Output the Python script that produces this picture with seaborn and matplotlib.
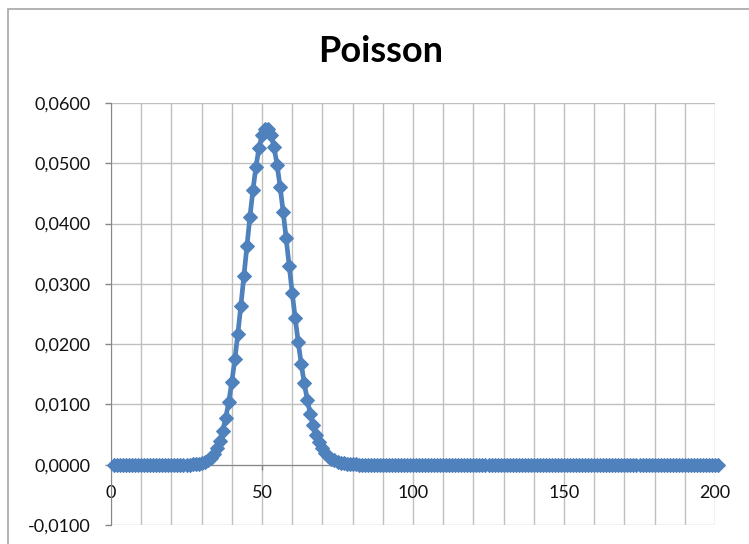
"""
plot.py
Poisson probability curve, Excel-style line chart with diamond markers.
"""

import matplotlib
matplotlib.use("Agg")
import matplotlib.pyplot as plt
import matplotlib.patches as mpatches
from matplotlib.ticker import MultipleLocator, FuncFormatter
import pandas as pd
import seaborn as sns

# ── Data ─────────────────────────────────────────────────────────────────────
TITLE = "Poisson"

# x positions of the points (1 .. 201)
x_vals = list(range(1, 202))

# probability at each point
prob = [
    0.0, 0.0, 0.0, 0.0, 0.0, 0.0, 0.0, 0.0, 0.0, 0.0,
    0.0, 0.0, 0.0, 0.0, 0.0, 0.0, 0.0, 0.0, 0.0, 0.0,
    0.0, 0.0, 0.0, 0.0, 0.00001, 0.00002, 0.00004, 0.00008, 0.00015, 0.00027,
    0.00045, 0.00074, 0.00118, 0.00183, 0.00274, 0.00400, 0.00566, 0.00781, 0.01048, 0.01370,
    0.01747, 0.02173, 0.02638, 0.03129, 0.03626, 0.04110, 0.04556, 0.04944, 0.05253, 0.05468,
    0.05577, 0.05577, 0.05470, 0.05264, 0.04971, 0.04610, 0.04198, 0.03756, 0.03303, 0.02855,
    0.02427, 0.02029, 0.01669, 0.01351, 0.01077, 0.00845, 0.00653, 0.00497, 0.00373, 0.00275,
    0.00201, 0.00144, 0.00102, 0.00071, 0.00049, 0.00033, 0.00022, 0.00015, 0.00010, 0.00006,
    0.00004, 0.00003, 0.00002, 0.00001, 0.0, 0.0, 0.0, 0.0, 0.0, 0.0,
    0.0, 0.0, 0.0, 0.0, 0.0, 0.0, 0.0, 0.0, 0.0, 0.0,
    0.0, 0.0, 0.0, 0.0, 0.0, 0.0, 0.0, 0.0, 0.0, 0.0,
    0.0, 0.0, 0.0, 0.0, 0.0, 0.0, 0.0, 0.0, 0.0, 0.0,
    0.0, 0.0, 0.0, 0.0, 0.0, 0.0, 0.0, 0.0, 0.0, 0.0,
    0.0, 0.0, 0.0, 0.0, 0.0, 0.0, 0.0, 0.0, 0.0, 0.0,
    0.0, 0.0, 0.0, 0.0, 0.0, 0.0, 0.0, 0.0, 0.0, 0.0,
    0.0, 0.0, 0.0, 0.0, 0.0, 0.0, 0.0, 0.0, 0.0, 0.0,
    0.0, 0.0, 0.0, 0.0, 0.0, 0.0, 0.0, 0.0, 0.0, 0.0,
    0.0, 0.0, 0.0, 0.0, 0.0, 0.0, 0.0, 0.0, 0.0, 0.0,
    0.0, 0.0, 0.0, 0.0, 0.0, 0.0, 0.0, 0.0, 0.0, 0.0,
    0.0, 0.0, 0.0, 0.0, 0.0, 0.0, 0.0, 0.0, 0.0, 0.0,
    0.0,
]

# ── Style ─────────────────────────────────────────────────────────────────────
sns.set_style("white")
plt.rcParams["font.family"] = ["Lato", "DejaVu Sans"]

LINE_COLOR = "#4F81BD"
GRID_COLOR = "#BFBFBF"
AXIS_COLOR = "#868686"
TEXT_COLOR = "#111111"


def comma_fmt(v, _pos):
    return f"{v:.4f}".replace(".", ",")


# ── Plot ──────────────────────────────────────────────────────────────────────
fig = plt.figure(figsize=(7.49, 5.44), dpi=100)
ax = fig.add_axes([111 / 749, 19 / 544, 604 / 749, 422 / 544])

# outer chart-area border (cut off at right and bottom like the original)
fig.patches.append(mpatches.Rectangle(
    (8 / 749, -0.2), 1.2, 1.2 - 9 / 544,
    transform=fig.transFigure, fill=False,
    edgecolor="#A6A6A6", linewidth=1.2))

df = pd.DataFrame({"x": x_vals, "p": prob})
sns.lineplot(data=df, x="x", y="p", ax=ax, color=LINE_COLOR,
             linewidth=3.4, marker="D", markersize=7.5,
             markeredgecolor=LINE_COLOR, zorder=3)
for line in ax.lines:
    line.set_clip_on(False)

ax.set_xlim(0, 200)
ax.set_ylim(-0.01, 0.06)
ax.xaxis.set_major_locator(MultipleLocator(50))
ax.xaxis.set_minor_locator(MultipleLocator(10))
ax.yaxis.set_major_locator(MultipleLocator(0.01))
ax.yaxis.set_major_formatter(FuncFormatter(comma_fmt))

ax.grid(True, which="major", color=GRID_COLOR, linewidth=1.0, zorder=0)
ax.grid(True, which="minor", axis="x", color=GRID_COLOR, linewidth=1.0, zorder=0)
ax.set_axisbelow(True)

for side in ["top", "right"]:
    ax.spines[side].set_visible(False)
ax.spines["left"].set_color(AXIS_COLOR)
ax.spines["bottom"].set_color(AXIS_COLOR)
ax.spines["bottom"].set_position(("data", 0))

ax.tick_params(axis="y", which="major", direction="out", length=4.5,
               width=1.0, color=AXIS_COLOR, pad=10, labelsize=13,
               labelcolor=TEXT_COLOR, left=True)
ax.tick_params(axis="x", which="major", direction="out", length=3.5,
               width=1.0, color=AXIS_COLOR, pad=11, labelsize=13,
               labelcolor=TEXT_COLOR, bottom=True)
ax.tick_params(axis="x", which="minor", length=0)

ax.set_xlabel("")
ax.set_ylabel("")

fig.text(381 / 749, 1 - 52 / 544, TITLE, ha="center", va="center",
         fontsize=26, fontweight="bold", color="#000000")

fig.savefig("out.png", dpi=100)
plt.close(fig)
